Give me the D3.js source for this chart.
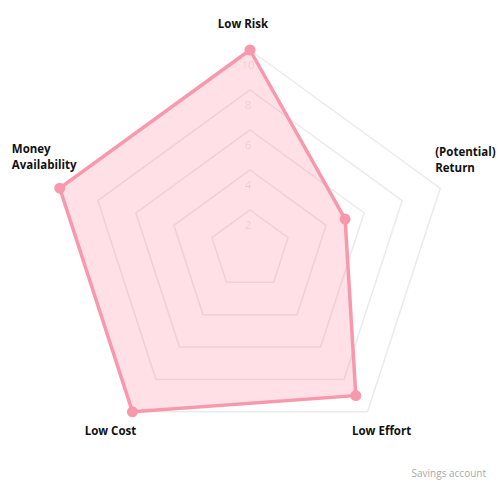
<!DOCTYPE html>
<html><head><meta charset="utf-8">
<script src="https://cdn.jsdelivr.net/npm/d3@7/dist/d3.min.js"></script>
<style>html,body{margin:0;padding:0;background:#fff;}</style>
</head><body>
<svg id="c" width="500" height="500"></svg>
<script>
const axes = ["Low Risk", "(Potential) Return", "Low Effort", "Low Cost", "Money Availability"];
const values = [10, 5, 9, 10, 10];
const ticks = [2, 4, 6, 8, 10];
const tickLabels = ["2", "4", "6", "8", "10"];
const seriesName = "Savings account";

const svg = d3.select("#c");
const cx = 250, cy = 250, R = 200;
const r = d3.scaleLinear().domain([0, 10]).range([0, R]);
const ang = d3.scaleLinear().domain([0, axes.length]).range([0, 2 * Math.PI]);
const pt = (i, v) => [cx + r(v) * Math.sin(ang(i)), cy - r(v) * Math.cos(ang(i))];

const g = svg.append("g");
// grid
const line = d3.line().curve(d3.curveLinearClosed);
g.selectAll("path.grid").data(ticks).enter().append("path")
  .attr("class", "grid")
  .attr("d", t => line(axes.map((a, i) => pt(i, t))))
  .attr("fill", "none").attr("stroke", "#ebebeb").attr("stroke-width", 1.5);

// data area
g.append("path")
  .attr("d", line(values.map((v, i) => pt(i, v))))
  .attr("fill", "rgba(255,99,132,0.2)")
  .attr("stroke", "#f898ad").attr("stroke-width", 3.5).attr("stroke-linejoin", "round");

// tick labels
g.selectAll("text.tick").data(ticks).enter().append("text")
  .attr("x", cx - 2).attr("y", t => cy - r(t) + 19)
  .attr("text-anchor", "middle")
  .attr("font-family", "Open Sans, sans-serif").attr("font-size", 11.5)
  .attr("fill", "rgba(0,0,0,0.11)")
  .text((t, i) => tickLabels[i]);

// points
g.selectAll("circle").data(values).enter().append("circle")
  .attr("cx", (v, i) => pt(i, v)[0]).attr("cy", (v, i) => pt(i, v)[1])
  .attr("r", 5.5).attr("fill", "#f898ad");

// axis labels
const labelLayout = [
  {lines: ["Low Risk"], dx: -7, dy: -22, anchor: "middle"},
  {lines: ["(Potential)", "Return"], dx: -5, dy: -32, anchor: "start"},
  {lines: ["Low Effort"], dx: 14, dy: 23, anchor: "middle"},
  {lines: ["Low Cost"], dx: -22, dy: 23, anchor: "middle"},
  {lines: ["Money", "Availability"], dx: -48, dy: -35, anchor: "start"}
];
const lab = g.selectAll("text.ax").data(axes).enter().append("text")
  .attr("class", "ax")
  .attr("font-family", "Open Sans, sans-serif").attr("font-weight", 700).attr("font-size", 11.5)
  .attr("fill", "#111")
  .attr("text-anchor", (a, i) => labelLayout[i].anchor)
  .attr("transform", (a, i) => { const p = pt(i, 10); return `translate(${p[0] + labelLayout[i].dx},${p[1] + labelLayout[i].dy})`; });
lab.each(function(a, i) {
  const t = d3.select(this);
  labelLayout[i].lines.forEach((s, k) => t.append("tspan").attr("x", 0).attr("y", k * 15.5).text(s));
});

svg.append("text").attr("x", 486).attr("y", 477).attr("text-anchor", "end")
  .attr("font-family", "Open Sans, sans-serif").attr("font-size", 10)
  .attr("fill", "#aaa").text(seriesName);
</script>
</body></html>
